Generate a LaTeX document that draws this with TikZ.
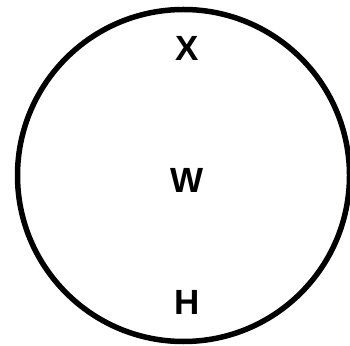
\documentclass[tikz,border=0pt]{standalone}
\usepackage{fontspec}
\setmainfont{Liberation Sans}
\usetikzlibrary{positioning}

\begin{document}
\begin{tikzpicture}[
    x=1pt, y=1pt,
    every node/.style={font=\bfseries\fontsize{35}{42}\selectfont},
    letter/.style={inner sep=0pt, text=ringcolor},
]

\definecolor{ringcolor}{HTML}{000000}

\useasboundingbox (0, 0) rectangle (350, 345);

% ------------------------------------------------------------ the ring
\draw[ringcolor, line width=5.5pt] (183.5, 169.5) circle (166);

% ------------------------------------------------------------ the letters
\node[letter] (w) at (187, 165) {W};
\node[letter] (x) at (187, 297) {X};
\node[letter] (h) at (187, 43) {H};

\end{tikzpicture}
\end{document}
